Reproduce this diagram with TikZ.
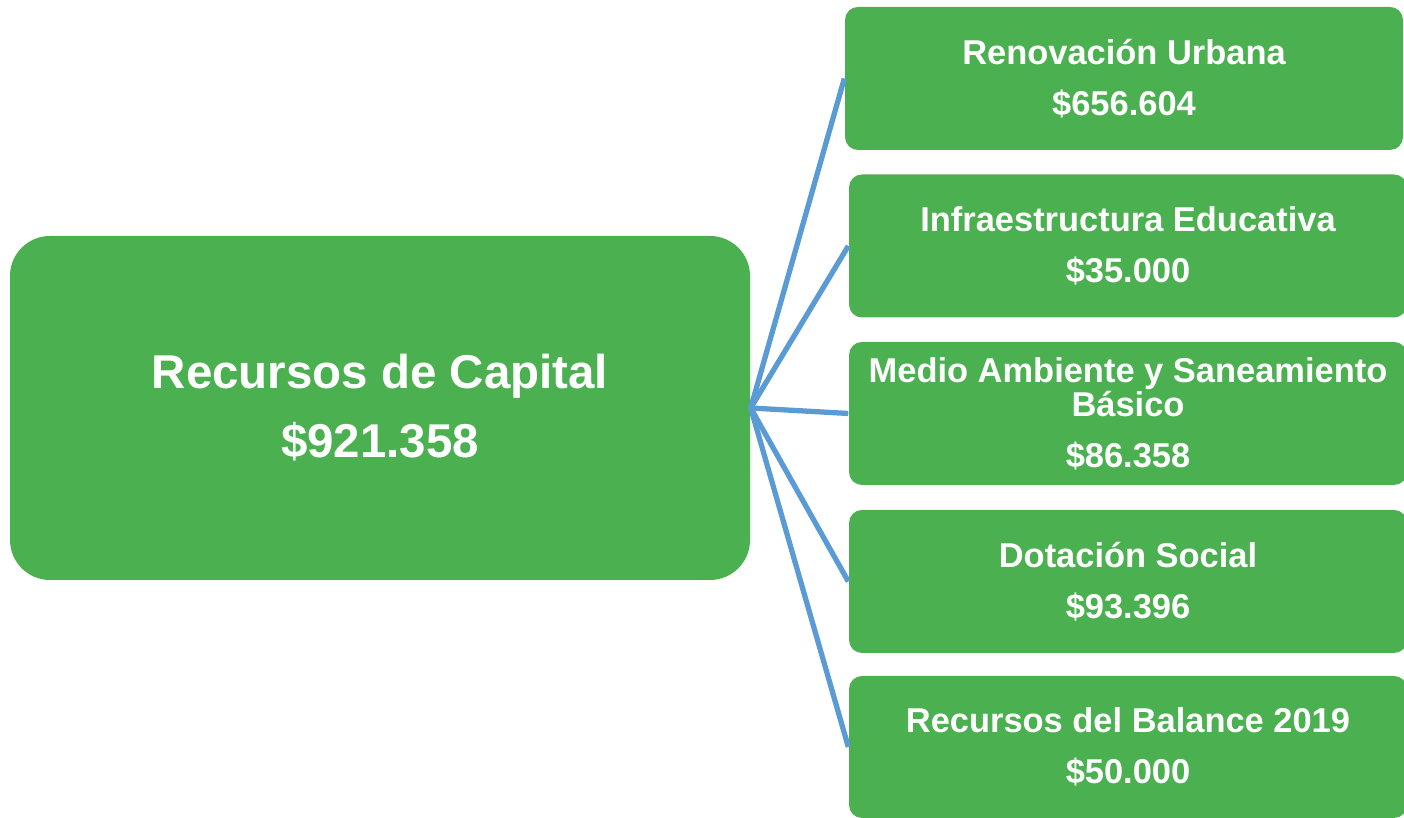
\documentclass[tikz,border=0pt]{standalone}
\usepackage{fontspec}
\setmainfont{Liberation Sans}
\usepackage{tikz}
\definecolor{boxgreen}{RGB}{75,176,80}
\definecolor{lineblue}{RGB}{91,155,213}

\begin{document}
\begin{tikzpicture}[
	big/.style={rectangle, rounded corners=0.4cm, fill=boxgreen, text=white, align=center,
		minimum width=7.4cm, minimum height=3.44cm, font=\bfseries\fontsize{13.5pt}{19.6pt}\selectfont},
	item/.style={rectangle, rounded corners=0.13cm, fill=boxgreen, text=white, align=center,
		minimum width=5.58cm, minimum height=1.43cm, inner sep=0pt, font=\bfseries\fontsize{9.8pt}{9.7pt}\selectfont},
	link/.style={line width=1.5pt, draw=lineblue}]
			\useasboundingbox (0,0) rectangle (14.04,8.18);
			
			\node[big] (0) at (3.80,4.10) {Recursos de Capital\\\$921.358};
			\node[item] (1) at (11.24,7.395) {Renovación Urbana\\[4.8pt]\$656.604};
			\node[item] (2) at (11.28,5.72) {Infraestructura Educativa\\[4.8pt]\$35.000};
			\node[item] (3) at (11.28,4.045) {Medio Ambiente y Saneamiento\\Básico\\[4.8pt]\$86.358};
			\node[item] (4) at (11.28,2.365) {Dotación Social\\[4.8pt]\$93.396};
			\node[item, minimum height=1.42cm] (5) at (11.28,0.71) {Recursos del Balance 2019\\[4.8pt]\$50.000};
			
			\draw[link] (0.east) -- (1.west);
			\draw[link] (0.east) -- (2.west);
			\draw[link] (0.east) -- (3.west);
			\draw[link] (0.east) -- (4.west);
			\draw[link] (0.east) -- (5.west);
			
		\end{tikzpicture}
\end{document}
